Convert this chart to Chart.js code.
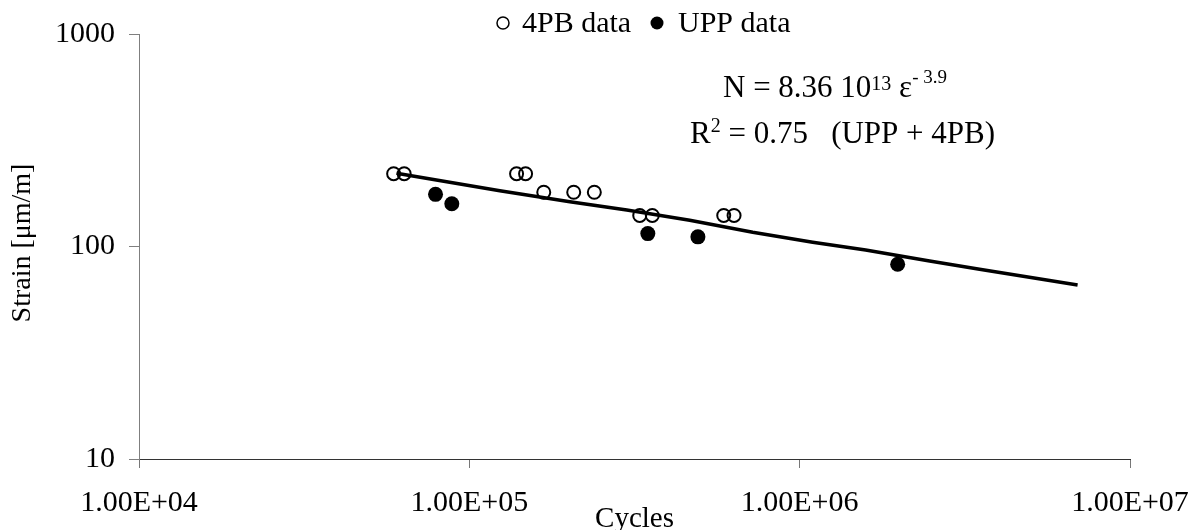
<!DOCTYPE html>
<html>
<head>
<meta charset="utf-8">
<script src="https://cdn.jsdelivr.net/npm/chart.js@4.4.0/dist/chart.umd.min.js"></script>
<style>
  body { margin: 0; background: #fff; }
  #wrap { width: 1200px; height: 530px; }
</style>
</head>
<body>
<div id="wrap"><canvas id="c" width="1200" height="530"></canvas></div>
<script>
// values
const fourPbCycles = [59000, 63500, 139000, 148000, 168000, 207000, 239000, 328000, 358000, 589000, 633000];
const fourPbStrain = [220, 220, 220, 220, 180, 180, 180, 140, 140, 140, 140];
const uppCycles = [79000, 88500, 347000, 492000, 1980000];
const uppStrain = [176, 159, 115, 111, 82.5];
const fitCycles = [60200, 123700, 201500, 299700, 464700, 720800, 1095000, 1584000, 2474000, 3504000, 5590000, 6940000];
const fitStrain = [221, 183, 162.5, 148.5, 133, 116.6, 104.7, 96.3, 85.5, 78.1, 69.6, 65.9];
const xTicks = [1e4, 1e5, 1e6, 1e7];
const yTicks = [10, 100, 1000];

const SERIF = "'Liberation Serif', 'Times New Roman', serif";

const pts = (xs, ys) => xs.map((x, i) => ({ x, y: ys[i] }));

function sci(v) {
  const e = Math.round(Math.log10(v));
  const m = v / Math.pow(10, e);
  return m.toFixed(2) + 'E+' + String(e).padStart(2, '0');
}

// draws a run of text pieces, some raised as superscripts
function richText(ctx, x, y, parts) {
  parts.forEach(p => {
    ctx.font = `${p.size}px ${SERIF}`;
    ctx.fillText(p.t, x, y - (p.rise || 0));
    x += ctx.measureText(p.t).width;
  });
}

const overlay = {
  id: 'overlay',
  afterDraw(chart) {
    const ctx = chart.ctx;
    const ds = chart.data.datasets;
    ctx.save();
    ctx.fillStyle = '#000';
    ctx.textBaseline = 'alphabetic';
    ctx.textAlign = 'left';

    // legend
    ctx.lineWidth = 1.5;
    ctx.strokeStyle = '#000';
    ctx.beginPath();
    ctx.arc(503, 23, 6, 0, Math.PI * 2);
    ctx.stroke();
    ctx.font = `30px ${SERIF}`;
    ctx.fillText(ds[0].label, 522, 32);
    ctx.beginPath();
    ctx.arc(657, 23, 6.5, 0, Math.PI * 2);
    ctx.fill();
    ctx.fillText(ds[1].label, 678, 32);

    // fit equation
    richText(ctx, 723, 97, [
      { t: 'N = 8.36 10', size: 31 },
      { t: '13', size: 20, rise: 7 },
      { t: ' \u03b5', size: 31 },
      { t: '- 3.9', size: 19, rise: 14 }
    ]);
    richText(ctx, 690, 142.5, [
      { t: 'R', size: 31 },
      { t: '2', size: 20, rise: 11 },
      { t: ' = 0.75   (UPP + 4PB)', size: 31 }
    ]);
    ctx.restore();
  }
};

new Chart(document.getElementById('c'), {
  type: 'scatter',
  data: {
    datasets: [
      {
        label: '4PB data',
        data: pts(fourPbCycles, fourPbStrain),
        pointStyle: 'circle',
        pointRadius: 6.5,
        pointBorderWidth: 2,
        borderColor: '#000',
        backgroundColor: 'rgba(0,0,0,0)'
      },
      {
        label: 'UPP data',
        data: pts(uppCycles, uppStrain),
        pointStyle: 'circle',
        pointRadius: 7.5,
        pointBorderWidth: 0,
        borderColor: '#000',
        backgroundColor: '#000'
      },
      {
        label: 'fit',
        data: pts(fitCycles, fitStrain),
        showLine: true,
        pointRadius: 0,
        borderColor: '#000',
        borderWidth: 3.5,
        tension: 0
      }
    ]
  },
  options: {
    responsive: false,
    animation: false,
    devicePixelRatio: 1,
    layout: { padding: { top: 34, right: 70, bottom: 0, left: 0 } },
    plugins: {
      legend: { display: false },
      tooltip: { enabled: false }
    },
    scales: {
      x: {
        type: 'logarithmic',
        min: 1e4,
        max: 1e7,
        afterBuildTicks: s => { s.ticks = xTicks.map(v => ({ value: v })); },
        afterFit: s => { s.height = 71; s.paddingLeft = 0; s.paddingRight = 0; },
        border: { display: true, color: '#333', width: 1 },
        grid: { display: true, drawOnChartArea: false, drawTicks: true, tickLength: 9, tickColor: '#777' },
        ticks: {
          color: '#000',
          padding: 17,
          maxRotation: 0,
          autoSkip: false,
          font: { family: SERIF, size: 30 },
          callback: v => sci(v)
        },
        title: {
          display: true,
          text: 'Cycles',
          color: '#000',
          font: { family: SERIF, size: 29, lineHeight: 1 },
          padding: { top: 0, bottom: -4 }
        }
      },
      y: {
        type: 'logarithmic',
        min: 10,
        max: 1000,
        afterBuildTicks: s => { s.ticks = yTicks.map(v => ({ value: v })); },
        afterFit: s => { s.width = 139; s.paddingTop = 0; s.paddingBottom = 0; },
        border: { display: true, color: '#7f7f7f', width: 1 },
        grid: { display: true, drawOnChartArea: false, drawTicks: true, tickLength: 10, tickColor: '#7f7f7f' },
        ticks: {
          color: '#000',
          padding: 14,
          autoSkip: false,
          font: { family: SERIF, size: 30 },
          callback: v => String(v)
        },
        title: {
          display: true,
          text: ' Strain [\u03bcm/m]',
          color: '#000',
          font: { family: SERIF, size: 28, lineHeight: 1 },
          padding: { top: 9, bottom: 0 }
        }
      }
    }
  },
  plugins: [overlay]
});
</script>
</body>
</html>
